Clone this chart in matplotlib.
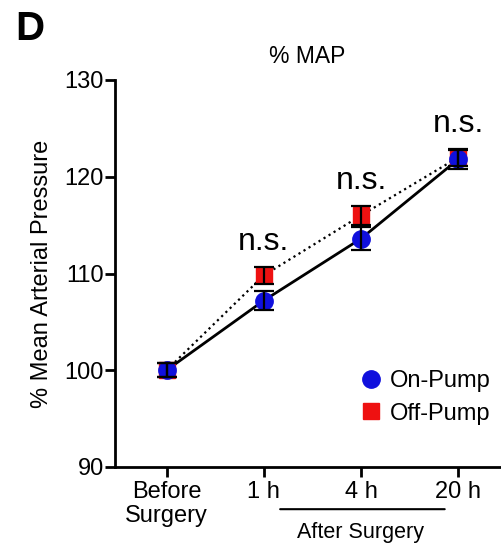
import numpy as np
import matplotlib.pyplot as plt

plt.rcParams["font.family"] = ["Liberation Sans", "DejaVu Sans"]

# ── Data ──────────────────────────────────────────────────────────────────────
time_labels = ["Before\nSurgery", "1 h", "4 h", "20 h"]
on_pump     = [100.0, 107.2, 113.6, 121.8]
on_pump_err = [0.7, 1.0, 1.2, 1.0]
off_pump    = [100.0, 109.8, 116.0, 122.0]
off_pump_err = [0.7, 0.9, 1.0, 0.9]
sig_labels  = ["", "n.s.", "n.s.", "n.s."]

x = np.arange(len(time_labels))

fig = plt.figure(figsize=(5.01, 5.5), dpi=100)
ax = fig.add_axes([115 / 501, 83 / 550, (500 - 115) / 501, (467 - 80) / 550])

# Off-Pump (dotted) underneath
ax.plot(x, off_pump, linestyle=":", color="black", linewidth=1.6, zorder=2)
ax.plot(x, off_pump, linestyle="none", marker="s", markersize=11.5,
        color="#ee1111", zorder=3, label="Off-Pump")
ax.errorbar(x, off_pump, yerr=off_pump_err, fmt="none", ecolor="black",
            elinewidth=1.6, capsize=7, capthick=1.6, zorder=5)

# On-Pump (solid)
ax.plot(x, on_pump, linestyle="-", color="black", linewidth=2, zorder=2)
ax.plot(x, on_pump, linestyle="none", marker="o", markersize=12.5,
        color="#1010dd", zorder=4, label="On-Pump")
ax.errorbar(x, on_pump, yerr=on_pump_err, fmt="none", ecolor="black",
            elinewidth=1.6, capsize=7, capthick=1.6, zorder=5)

# significance labels
tops = np.maximum(np.array(on_pump) + on_pump_err, np.array(off_pump) + off_pump_err)
for xi, top, lab in zip(x, tops, sig_labels):
    if lab:
        ax.text(xi, top + 1.7, lab, ha="center", va="baseline", fontsize=23)

ax.set_xlim(-0.53, 3.43)
ax.set_ylim(90, 130)
ax.set_yticks([90, 100, 110, 120, 130])
ax.set_xticks(x)
ax.set_xticklabels(time_labels, fontsize=17, linespacing=1.15)
ax.tick_params(axis="y", labelsize=17, width=2, length=7, pad=1)
ax.tick_params(axis="x", width=2, length=7, pad=3)
for side in ["top", "right"]:
    ax.spines[side].set_visible(False)
for side in ["left", "bottom"]:
    ax.spines[side].set_linewidth(2)

ax.set_ylabel("% Mean Arterial Pressure", fontsize=17, labelpad=8)
ax.set_title("% MAP", fontsize=16.5, pad=12)

handles, labels = ax.get_legend_handles_labels()
ax.legend(handles[::-1], labels[::-1], loc="lower right", frameon=False,
          fontsize=17, handletextpad=0.2, borderaxespad=0.0,
          bbox_to_anchor=(1.0, 0.085), labelspacing=0.45, handlelength=1.2)

# "After Surgery" bracket under x-axis
ax.annotate("", xy=(1.14, -0.109), xytext=(2.89, -0.109),
            xycoords=("data", "axes fraction"),
            textcoords=("data", "axes fraction"),
            arrowprops=dict(arrowstyle="-", linewidth=1.5, color="black"))
ax.text(2.0, -0.168, "After Surgery", transform=ax.get_xaxis_transform(),
        ha="center", va="center", fontsize=15.5)

fig.text(30 / 501, 1 - 29 / 550, "D", fontsize=29, fontweight="bold",
         ha="center", va="center")

fig.savefig("out.png", dpi=100)
